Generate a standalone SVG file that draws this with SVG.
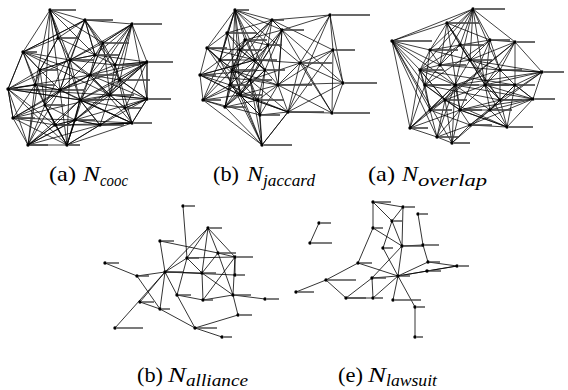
<svg xmlns="http://www.w3.org/2000/svg" width="568" height="390" viewBox="0 0 568 390">
<style>
.e{fill:none;stroke:#000;stroke-width:.8;stroke-linecap:round;stroke-linejoin:round}
.d{stroke-width:.75}
.n circle{fill:#000}
.n use{fill:#000}
.n rect{fill:#444}
.cap{font-family:"Liberation Serif","Times New Roman",serif;font-size:21px;fill:#000}
.it{font-style:italic}
.sub{font-size:16px;font-style:italic}
</style>
<rect width="568" height="390" fill="#fff"/>
<defs>
<circle id="dot" r="1.7"/>
</defs>
<g id="connectors">
<path class="e d" d="M50,10 L23,52 L8,89 L13,118 L28,145 L67,145 L100,125 L132,123 L147,99 L147,62 L132,24 L85,20 L50,10
M50,10 L58,38 L70,60 L95,55 L103,43 L132,24 L115,65 L120,80 L110,95 L125,108 L132,123 L100,125 L75,120 L55,125 L28,145 L45,105 L35,85 L8,89 L40,70 L23,52 L58,38 L85,20 L95,55 L90,75 L80,100 L75,120 L67,145 L55,125 L45,105 L60,90 L70,60 L103,43 L115,65 L147,62 L120,80 L147,99 L125,108 L100,125 L80,100 L110,95 L90,75 L115,65 L132,24 L95,55 L70,60 L40,70 L35,85 L13,118 L45,105 L55,125 L75,120 L80,100 L60,90 L40,70 L58,38 L50,10 L70,60 L90,75 L120,80 L132,123 L67,145 L60,90 L35,85 L23,52 L85,20 L70,60 L110,95 L147,99 L132,24 L103,43 L90,75 L60,90 L8,89 L28,145 L75,120 L100,125 L55,125 L80,100 L125,108 L147,62 L95,55 L58,38 L40,70 L45,105 L67,145 L80,100 L120,80 L147,62 L115,65 L85,20 L23,52 L70,60 L80,100 L132,123 L125,108 L110,95 L100,125 L67,145 L75,120 L13,118 L60,90 L95,55 L85,20 L103,43 L110,95 L147,62 L147,99 L132,123 L100,125 L80,100 L8,89 L35,85 L60,90 L90,75 L103,43 L50,10 L95,55 L115,65 L125,108 L147,99 L120,80 L75,120 L28,145 L55,125 L13,118 L8,89 L23,52 L40,70 L70,60 L115,65 L110,95 L75,120 L45,105 L23,52
M50,10 L60,90 M50,10 L80,100 M50,10 L45,105 M50,10 L35,85 M28,145 L60,90 M28,145 L80,100 M28,145 L40,70 M28,145 L35,85 M28,145 L100,125 M67,145 L90,75 M67,145 L70,60 M67,145 L45,105 M67,145 L13,118 M67,145 L8,89 M8,89 L70,60 M8,89 L90,75 M8,89 L80,100 M8,89 L110,95 M8,89 L55,125 M147,62 L90,75 M147,62 L80,100 M147,62 L60,90 M147,62 L110,95 M147,62 L75,120 M147,99 L80,100 M147,99 L110,95 M147,99 L90,75 M147,99 L75,120 M147,99 L100,125 M132,24 L90,75 M132,24 L70,60 M132,24 L80,100 M132,24 L110,95 M132,24 L120,80 M132,123 L80,100 M132,123 L90,75 M132,123 L60,90 M132,123 L75,120 M132,123 L55,125 M85,20 L60,90 M85,20 L45,105 M85,20 L120,80 M13,118 L90,75 M13,118 L110,95 M23,52 L90,75 M23,52 L110,95"/>
<path class="e d" d="M235,10 L227,33 L207,48 L200,75 L203,100 L225,107 L262,145 L288,112 L278,85 L282,30 L272,20 L235,10 L245,40 L255,60 L250,80 L240,95 L225,107 L230,85 L232,70 L240,50 L227,33 L220,60 L200,75 L230,85 L258,100 L260,115 L203,100 L232,70 L268,45 L272,20 L255,60 L265,70 L278,85 L258,100 L250,80 L232,70 L207,48 L240,50 L265,70 L240,95 L200,75 L255,60 L220,60 L245,40 L282,30 L265,70 L260,115 L240,95 L203,100 L250,80 L268,45 L235,10 L240,50 L230,85 L260,115 L288,112 L258,100 L225,107 L232,70 L245,40 L268,45 L278,85 L250,80 L220,60 L207,48 L240,95 L258,100 L265,70 L240,50 L272,20 L227,33 L255,60 L230,85 L203,100 L220,60 L235,10 L265,70 L225,107 L250,80 L260,115 L278,85 L282,30 L255,60 L200,75 L240,95 L288,112
M235,10 L207,48 M235,10 L220,60 M227,33 L240,95 M207,48 L258,100 M207,48 L255,60 M200,75 L250,80 M200,75 L265,70 M203,100 L245,40 M225,107 L245,40 M225,107 L268,45 M272,20 L240,50 M272,20 L232,70 M282,30 L250,80 M282,30 L240,95 M278,85 L240,95 M278,85 L232,70 M288,112 L250,80 M288,112 L240,95
M330,15 L272,20 M330,15 L282,30 M330,15 L333,50 M330,15 L300,63 M330,15 L343,83 M330,15 L288,112 M333,50 L300,63 M333,50 L343,83 M333,50 L332,113 M333,50 L288,112 M333,50 L278,85 M300,63 L343,83 M300,63 L332,113 M300,63 L288,112 M300,63 L278,85 M300,63 L235,10 M300,63 L255,60 M300,63 L250,80 M343,83 L332,113 M343,83 L288,112 M343,83 L278,85 M343,83 L282,30 M332,113 L288,112 M332,113 L282,30 M332,113 L278,85 M288,112 L262,145 M262,145 L203,100 M262,145 L260,115 M262,145 L240,95 M262,145 L250,80 M262,145 L232,70 M262,145 L220,60 M262,145 L258,100 M272,20 L282,30 M272,20 L333,50 M235,10 L282,30 M235,10 L255,60 M235,10 L240,95 M235,10 L232,70"/>
<path class="e d" d="M473,9 L447,23 L430,50 L420,70 L425,85 L430,110 L410,128 L437,137 L452,143 L470,125 L507,127 L533,99 L542,72 L515,42 L473,9 L460,45 L470,60 L500,70 L515,85 L500,100 L490,110 L460,110 L445,100 L425,85 L440,65 L460,45 L490,40 L500,70 L485,85 L455,85 L440,65 L430,50 L470,60 L485,85 L500,100 L507,127 L490,110 L470,125 L460,110 L455,85 L420,70 L430,110 L445,100 L437,137 L460,110 L485,85 L515,85 L533,99 L500,100 L542,72 L500,70 L515,42 L490,40 L447,23 L440,65 L470,60 L455,85 L445,100 L410,128 L425,85 L430,50 L460,45 L447,23 L470,60 L490,40 L485,85 L490,110 L533,99 L515,85 L515,42 L470,60 L500,100 L460,110 L452,143 L445,100 L420,70 L440,65 L500,70 L455,85 L430,110 L470,125 L500,100 L500,70 L542,72 L515,85 L490,110 L455,85 L425,85 L460,110 L507,127 L515,85 L485,85 L460,45 L420,70 L445,100 L485,85 L515,42
M392,41 L473,9 M392,41 L447,23 M392,41 L410,128 M392,41 L437,137 M392,41 L430,50 M392,41 L440,65 M392,41 L425,85 M392,41 L430,110 M392,41 L420,70 M392,41 L452,143 M392,41 L455,85
M473,9 L430,50 M473,9 L490,40 M473,9 L440,65 M473,9 L470,60 M473,9 L500,70 M473,9 L455,85 M473,9 L420,70 M473,9 L485,85
M542,72 L470,60 M542,72 L485,85 M542,72 L490,110 M542,72 L455,85 M533,99 L470,125 M533,99 L485,85 M533,99 L460,110 M533,99 L455,85 M507,127 L460,110 M507,127 L485,85 M507,127 L445,100 M410,128 L460,110 M410,128 L455,85 M410,128 L420,70 M437,137 L430,110 M437,137 L455,85 M437,137 L470,125 M452,143 L490,110 M452,143 L455,85
M447,23 L460,110 M447,23 L500,100 M515,42 L445,100 M515,42 L430,110 M490,40 L425,85 M490,40 L460,110 M420,70 L515,85 M425,85 L500,100"/>
<path class="e" d="M183,206 L187,258 M208,228 L187,258 M208,228 L218,253 M208,228 L235,257 M208,228 L165,272 M208,228 L202,273 M160,241 L165,272 M160,241 L218,253 M187,258 L235,257 M187,258 L202,273 M187,258 L165,272 M218,253 L235,257 M218,253 L233,295 M218,253 L202,273 M235,257 L235,275 M235,257 L203,300 M235,257 L233,295 M105,263 L137,276 M137,276 L165,272 M137,276 L160,309 M165,272 L202,273 M165,272 L235,275 M165,272 L140,302 M165,272 L177,295 M165,272 L115,328 M165,272 L160,309 M202,273 L203,300 M202,273 L233,295 M177,295 L203,300 M177,295 L195,328 M203,300 L233,295 M233,295 L265,299 M233,295 L238,315 M140,302 L160,309 M160,309 L195,328 M195,328 L222,337 M195,328 L238,315 M177,295 L187,258"/>
<path class="e" d="M373,202 L403,207 M373,202 L373,228 M373,202 L392,221 M403,207 L392,221 M403,207 L402,246 M418,214 L423,245 M392,221 L383,248 M392,221 L402,246 M373,228 L358,263 M373,228 L402,246 M402,246 L423,245 M402,246 L372,278 M402,246 L398,276 M383,248 L398,276 M358,263 L326,280 M358,263 L398,276 M326,280 L296,292 M326,280 L346,298 M372,278 L373,298 M372,278 L346,298 M372,278 L398,276 M398,276 L373,298 M398,276 L428,262 M398,276 L457,266 M398,276 L427,271 M398,276 L393,300 M398,276 L415,307 M423,245 L428,262 M428,262 L457,266 M427,271 L457,266 M415,307 L415,337 M346,298 L373,298 M319,223 L310,243"/>
</g>
<g id="graph-cooc" class="n">
<g id="a1"><use href="#dot" x="50" y="10"/><rect x="52" y="9.2" width="24" height="1.6"/></g>
<g id="a2"><use href="#dot" x="85" y="20"/><rect x="87" y="19.2" width="26" height="1.6"/></g>
<g id="a3"><use href="#dot" x="132" y="24"/><rect x="134" y="23.2" width="28" height="1.6"/></g>
<g id="a4"><use href="#dot" x="58" y="38"/><rect x="60" y="37.2" width="18" height="1.6"/></g>
<g id="a5"><use href="#dot" x="103" y="43"/><rect x="105" y="42.2" width="24" height="1.6"/></g>
<g id="a6"><use href="#dot" x="23" y="52"/><rect x="25" y="51.2" width="12" height="1.6"/></g>
<g id="a7"><use href="#dot" x="147" y="62"/><rect x="149" y="61.2" width="24" height="1.6"/></g>
<g id="a8"><use href="#dot" x="120" y="80"/><rect x="122" y="79.2" width="28" height="1.6"/></g>
<g id="a9"><use href="#dot" x="8" y="89"/><rect x="10" y="88.2" width="8" height="1.6"/></g>
<g id="a10"><use href="#dot" x="147" y="99"/><rect x="149" y="98.2" width="22" height="1.6"/></g>
<g id="a11"><use href="#dot" x="13" y="118"/><rect x="15" y="117.2" width="20" height="1.6"/></g>
<g id="a12"><use href="#dot" x="100" y="125"/><rect x="102" y="124.2" width="22" height="1.6"/></g>
<g id="a13"><use href="#dot" x="132" y="123"/><rect x="134" y="122.2" width="18" height="1.6"/></g>
<g id="a14"><use href="#dot" x="28" y="145"/><rect x="30" y="144.2" width="18" height="1.6"/></g>
<g id="a15"><use href="#dot" x="67" y="145"/><rect x="69" y="144.2" width="11" height="1.6"/></g>
<g id="a16"><use href="#dot" x="40" y="70"/><rect x="42" y="69.2" width="16" height="1.6"/></g>
<g id="a17"><use href="#dot" x="70" y="60"/><rect x="72" y="59.2" width="22" height="1.6"/></g>
<g id="a18"><use href="#dot" x="90" y="75"/><rect x="92" y="74.2" width="26" height="1.6"/></g>
<g id="a19"><use href="#dot" x="60" y="90"/><rect x="62" y="89.2" width="22" height="1.6"/></g>
<g id="a20"><use href="#dot" x="80" y="100"/><rect x="82" y="99.2" width="22" height="1.6"/></g>
<g id="a21"><use href="#dot" x="45" y="105"/><rect x="47" y="104.2" width="18" height="1.6"/></g>
<g id="a22"><use href="#dot" x="110" y="95"/><rect x="112" y="94.2" width="22" height="1.6"/></g>
<g id="a23"><use href="#dot" x="95" y="55"/><rect x="97" y="54.2" width="22" height="1.6"/></g>
<g id="a24"><use href="#dot" x="75" y="120"/><rect x="77" y="119.2" width="18" height="1.6"/></g>
<g id="a25"><use href="#dot" x="35" y="85"/><rect x="37" y="84.2" width="18" height="1.6"/></g>
<g id="a26"><use href="#dot" x="125" y="108"/><rect x="127" y="107.2" width="14" height="1.6"/></g>
<g id="a27"><use href="#dot" x="55" y="125"/><rect x="57" y="124.2" width="14" height="1.6"/></g>
<g id="a28"><use href="#dot" x="115" y="65"/><rect x="117" y="64.2" width="22" height="1.6"/></g>
</g>
<g id="graph-jaccard" class="n">
<g id="j1"><use href="#dot" x="235" y="10"/><rect x="237" y="9.2" width="12" height="1.6"/></g>
<g id="j2"><use href="#dot" x="272" y="20"/><rect x="274" y="19.2" width="10" height="1.6"/></g>
<g id="j3"><use href="#dot" x="330" y="15"/><rect x="332" y="14.2" width="38" height="1.6"/></g>
<g id="j4"><use href="#dot" x="282" y="30"/><rect x="284" y="29.2" width="20" height="1.6"/></g>
<g id="j5"><use href="#dot" x="227" y="33"/><rect x="229" y="32.2" width="28" height="1.6"/></g>
<g id="j6"><use href="#dot" x="207" y="48"/><rect x="209" y="47.2" width="18" height="1.6"/></g>
<g id="j7"><use href="#dot" x="333" y="50"/><rect x="335" y="49.2" width="20" height="1.6"/></g>
<g id="j8"><use href="#dot" x="300" y="63"/><rect x="302" y="62.2" width="30" height="1.6"/></g>
<g id="j9"><use href="#dot" x="200" y="75"/><rect x="202" y="74.2" width="14" height="1.6"/></g>
<g id="j10"><use href="#dot" x="343" y="83"/><rect x="345" y="82.2" width="32" height="1.6"/></g>
<g id="j11"><use href="#dot" x="278" y="85"/><rect x="280" y="84.2" width="32" height="1.6"/></g>
<g id="j12"><use href="#dot" x="203" y="100"/><rect x="205" y="99.2" width="16" height="1.6"/></g>
<g id="j13"><use href="#dot" x="225" y="107"/><rect x="227" y="106.2" width="18" height="1.6"/></g>
<g id="j14"><use href="#dot" x="288" y="112"/><rect x="290" y="111.2" width="34" height="1.6"/></g>
<g id="j15"><use href="#dot" x="332" y="113"/><rect x="334" y="112.2" width="36" height="1.6"/></g>
<g id="j16"><use href="#dot" x="262" y="145"/><rect x="264" y="144.2" width="28" height="1.6"/></g>
<g id="j17"><use href="#dot" x="240" y="50"/><rect x="242" y="49.2" width="20" height="1.6"/></g>
<g id="j18"><use href="#dot" x="255" y="60"/><rect x="257" y="59.2" width="20" height="1.6"/></g>
<g id="j19"><use href="#dot" x="232" y="70"/><rect x="234" y="69.2" width="22" height="1.6"/></g>
<g id="j20"><use href="#dot" x="250" y="80"/><rect x="252" y="79.2" width="20" height="1.6"/></g>
<g id="j21"><use href="#dot" x="265" y="70"/><rect x="267" y="69.2" width="18" height="1.6"/></g>
<g id="j22"><use href="#dot" x="240" y="95"/><rect x="242" y="94.2" width="20" height="1.6"/></g>
<g id="j23"><use href="#dot" x="258" y="100"/><rect x="260" y="99.2" width="24" height="1.6"/></g>
<g id="j24"><use href="#dot" x="220" y="60"/><rect x="222" y="59.2" width="18" height="1.6"/></g>
<g id="j25"><use href="#dot" x="245" y="40"/><rect x="247" y="39.2" width="20" height="1.6"/></g>
<g id="j26"><use href="#dot" x="268" y="45"/><rect x="270" y="44.2" width="12" height="1.6"/></g>
<g id="j27"><use href="#dot" x="230" y="85"/><rect x="232" y="84.2" width="20" height="1.6"/></g>
<g id="j28"><use href="#dot" x="260" y="115"/><rect x="262" y="114.2" width="18" height="1.6"/></g>
</g>
<g id="graph-overlap" class="n">
<g id="o1"><use href="#dot" x="473" y="9"/><rect x="475" y="8.2" width="30" height="1.6"/></g>
<g id="o2"><use href="#dot" x="447" y="23"/><rect x="449" y="22.2" width="30" height="1.6"/></g>
<g id="o3"><use href="#dot" x="392" y="41"/><rect x="394" y="40.2" width="38" height="1.6"/></g>
<g id="o4"><use href="#dot" x="515" y="42"/><rect x="517" y="41.2" width="18" height="1.6"/></g>
<g id="o5"><use href="#dot" x="542" y="72"/><rect x="544" y="71.2" width="20" height="1.6"/></g>
<g id="o6"><use href="#dot" x="533" y="99"/><rect x="535" y="98.2" width="20" height="1.6"/></g>
<g id="o7"><use href="#dot" x="507" y="127"/><rect x="509" y="126.2" width="24" height="1.6"/></g>
<g id="o8"><use href="#dot" x="410" y="128"/><rect x="412" y="127.2" width="16" height="1.6"/></g>
<g id="o9"><use href="#dot" x="437" y="137"/><rect x="439" y="136.2" width="20" height="1.6"/></g>
<g id="o10"><use href="#dot" x="452" y="143"/><rect x="454" y="142.2" width="16" height="1.6"/></g>
<g id="o11"><use href="#dot" x="430" y="50"/><rect x="432" y="49.2" width="26" height="1.6"/></g>
<g id="o12"><use href="#dot" x="460" y="45"/><rect x="462" y="44.2" width="22" height="1.6"/></g>
<g id="o13"><use href="#dot" x="490" y="40"/><rect x="492" y="39.2" width="18" height="1.6"/></g>
<g id="o14"><use href="#dot" x="440" y="65"/><rect x="442" y="64.2" width="24" height="1.6"/></g>
<g id="o15"><use href="#dot" x="470" y="60"/><rect x="472" y="59.2" width="20" height="1.6"/></g>
<g id="o16"><use href="#dot" x="500" y="70"/><rect x="502" y="69.2" width="20" height="1.6"/></g>
<g id="o17"><use href="#dot" x="425" y="85"/><rect x="427" y="84.2" width="24" height="1.6"/></g>
<g id="o18"><use href="#dot" x="455" y="85"/><rect x="457" y="84.2" width="22" height="1.6"/></g>
<g id="o19"><use href="#dot" x="485" y="85"/><rect x="487" y="84.2" width="22" height="1.6"/></g>
<g id="o20"><use href="#dot" x="515" y="85"/><rect x="517" y="84.2" width="18" height="1.6"/></g>
<g id="o21"><use href="#dot" x="430" y="110"/><rect x="432" y="109.2" width="20" height="1.6"/></g>
<g id="o22"><use href="#dot" x="460" y="110"/><rect x="462" y="109.2" width="20" height="1.6"/></g>
<g id="o23"><use href="#dot" x="490" y="110"/><rect x="492" y="109.2" width="20" height="1.6"/></g>
<g id="o24"><use href="#dot" x="420" y="70"/><rect x="422" y="69.2" width="22" height="1.6"/></g>
<g id="o25"><use href="#dot" x="470" y="125"/><rect x="472" y="124.2" width="20" height="1.6"/></g>
<g id="o26"><use href="#dot" x="500" y="100"/><rect x="502" y="99.2" width="20" height="1.6"/></g>
<g id="o27"><use href="#dot" x="445" y="100"/><rect x="447" y="99.2" width="20" height="1.6"/></g>
</g>
<g id="graph-alliance" class="n">
<g id="al0"><use href="#dot" x="183" y="206"/><rect x="185" y="205.3" width="10" height="1.4"/></g>
<g id="al1"><use href="#dot" x="208" y="228"/><rect x="210" y="227.3" width="12" height="1.4"/></g>
<g id="al3"><use href="#dot" x="160" y="241"/><rect x="162" y="240.3" width="12" height="1.4"/></g>
<g id="al4"><use href="#dot" x="187" y="258"/><rect x="189" y="257.3" width="10" height="1.4"/></g>
<g id="al5"><use href="#dot" x="218" y="253"/><rect x="220" y="252.3" width="16" height="1.4"/></g>
<g id="al6"><use href="#dot" x="235" y="257"/><rect x="237" y="256.3" width="16" height="1.4"/></g>
<g id="al7"><use href="#dot" x="105" y="263"/><rect x="107" y="262.3" width="12" height="1.4"/></g>
<g id="al8"><use href="#dot" x="137" y="276"/><rect x="139" y="275.3" width="10" height="1.4"/></g>
<g id="al9"><use href="#dot" x="165" y="272"/><rect x="167" y="271.3" width="16" height="1.4"/></g>
<g id="al10"><use href="#dot" x="202" y="273"/><rect x="204" y="272.3" width="12" height="1.4"/></g>
<g id="al11"><use href="#dot" x="235" y="275"/><rect x="237" y="274.3" width="8" height="1.4"/></g>
<g id="al12"><use href="#dot" x="177" y="295"/><rect x="179" y="294.3" width="12" height="1.4"/></g>
<g id="al13"><use href="#dot" x="203" y="300"/><rect x="205" y="299.3" width="8" height="1.4"/></g>
<g id="al14"><use href="#dot" x="233" y="295"/><rect x="235" y="294.3" width="16" height="1.4"/></g>
<g id="al15"><use href="#dot" x="265" y="299"/><rect x="267" y="298.3" width="12" height="1.4"/></g>
<g id="al16"><use href="#dot" x="140" y="302"/><rect x="142" y="301.3" width="12" height="1.4"/></g>
<g id="al17"><use href="#dot" x="160" y="309"/><rect x="162" y="308.3" width="8" height="1.4"/></g>
<g id="al18"><use href="#dot" x="238" y="315"/><rect x="240" y="314.3" width="12" height="1.4"/></g>
<g id="al19"><use href="#dot" x="115" y="328"/><rect x="117" y="327.3" width="26" height="1.4"/></g>
<g id="al20"><use href="#dot" x="195" y="328"/><rect x="197" y="327.3" width="20" height="1.4"/></g>
<g id="al21"><use href="#dot" x="222" y="337"/><rect x="224" y="336.3" width="8" height="1.4"/></g>
</g>
<g id="graph-lawsuit" class="n">
<g id="lw1"><use href="#dot" x="373" y="202"/><rect x="375" y="201.3" width="16" height="1.4"/></g>
<g id="lw2"><use href="#dot" x="403" y="207"/><rect x="405" y="206.3" width="10" height="1.4"/></g>
<g id="lw3"><use href="#dot" x="418" y="214"/><rect x="420" y="213.3" width="8" height="1.4"/></g>
<g id="lw4"><use href="#dot" x="392" y="221"/><rect x="394" y="220.3" width="8" height="1.4"/></g>
<g id="lw5"><use href="#dot" x="319" y="223"/><rect x="321" y="222.3" width="10" height="1.4"/></g>
<g id="lw6"><use href="#dot" x="373" y="228"/><rect x="375" y="227.3" width="8" height="1.4"/></g>
<g id="lw7"><use href="#dot" x="310" y="243"/><rect x="312" y="242.3" width="20" height="1.4"/></g>
<g id="lw8"><use href="#dot" x="383" y="248"/><rect x="385" y="247.3" width="8" height="1.4"/></g>
<g id="lw9"><use href="#dot" x="402" y="246"/><rect x="404" y="245.3" width="20" height="1.4"/></g>
<g id="lw10"><use href="#dot" x="423" y="245"/><rect x="425" y="244.3" width="14" height="1.4"/></g>
<g id="lw11"><use href="#dot" x="358" y="263"/><rect x="360" y="262.3" width="12" height="1.4"/></g>
<g id="lw12"><use href="#dot" x="428" y="262"/><rect x="430" y="261.3" width="10" height="1.4"/></g>
<g id="lw13"><use href="#dot" x="457" y="266"/><rect x="459" y="265.3" width="10" height="1.4"/></g>
<g id="lw14"><use href="#dot" x="427" y="271"/><rect x="429" y="270.3" width="12" height="1.4"/></g>
<g id="lw15"><use href="#dot" x="398" y="276"/><rect x="400" y="275.3" width="10" height="1.4"/></g>
<g id="lw16"><use href="#dot" x="372" y="278"/><rect x="374" y="277.3" width="12" height="1.4"/></g>
<g id="lw17"><use href="#dot" x="326" y="280"/><rect x="328" y="279.3" width="28" height="1.4"/></g>
<g id="lw18"><use href="#dot" x="296" y="292"/><rect x="298" y="291.3" width="16" height="1.4"/></g>
<g id="lw19"><use href="#dot" x="346" y="298"/><rect x="348" y="297.3" width="18" height="1.4"/></g>
<g id="lw20"><use href="#dot" x="373" y="298"/><rect x="375" y="297.3" width="8" height="1.4"/></g>
<g id="lw21"><use href="#dot" x="393" y="300"/><rect x="395" y="299.3" width="26" height="1.4"/></g>
<g id="lw22"><use href="#dot" x="415" y="307"/><rect x="417" y="306.3" width="8" height="1.4"/></g>
<g id="lw23"><use href="#dot" x="415" y="337"/><rect x="417" y="336.3" width="6" height="1.4"/></g>
</g>
<g id="captions" class="cap">
<text x="49" y="181" textLength="27" lengthAdjust="spacingAndGlyphs">(a)</text>
<text class="it" x="83" y="181" textLength="17" lengthAdjust="spacingAndGlyphs">N</text>
<text class="sub" x="100" y="186" textLength="28" lengthAdjust="spacingAndGlyphs">cooc</text>
<text x="213" y="181" textLength="26" lengthAdjust="spacingAndGlyphs">(b)</text>
<text class="it" x="247" y="181" textLength="16" lengthAdjust="spacingAndGlyphs">N</text>
<text class="sub" x="263" y="186" textLength="52" lengthAdjust="spacingAndGlyphs">jaccard</text>
<text x="368" y="181" textLength="27" lengthAdjust="spacingAndGlyphs">(a)</text>
<text class="it" x="402" y="181" textLength="16" lengthAdjust="spacingAndGlyphs">N</text>
<text class="sub" x="418" y="186" textLength="69" lengthAdjust="spacingAndGlyphs">overlap</text>
<text x="137" y="382" textLength="26" lengthAdjust="spacingAndGlyphs">(b)</text>
<text class="it" x="168" y="382" textLength="18" lengthAdjust="spacingAndGlyphs">N</text>
<text class="sub" x="186" y="386" textLength="62" lengthAdjust="spacingAndGlyphs">alliance</text>
<text x="338" y="382" textLength="25" lengthAdjust="spacingAndGlyphs">(e)</text>
<text class="it" x="368" y="382" textLength="18" lengthAdjust="spacingAndGlyphs">N</text>
<text class="sub" x="386" y="386" textLength="51" lengthAdjust="spacingAndGlyphs">lawsuit</text>
</g>
</svg>
